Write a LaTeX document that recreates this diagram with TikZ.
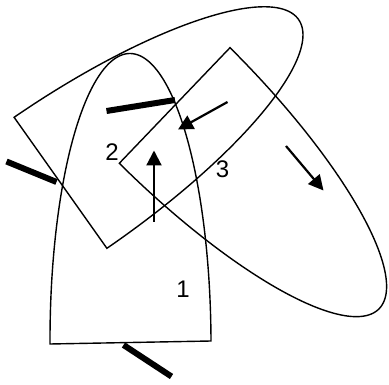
\documentclass[tikz,border=0pt]{standalone}
\usepackage{fontspec}
\setmainfont{Liberation Sans}
\usetikzlibrary{arrows.meta}
\begin{document}
\begin{tikzpicture}[x=1pt,y=-1pt,
  outline/.style={line width=1.4pt, line join=miter},
  thickbar/.style={line width=6pt},
  pointer/.style={line width=2.2pt, -{Triangle[length=15pt,width=15pt]}},
  lbl/.style={font=\fontsize{24}{24}\selectfont, inner sep=0pt}]
\useasboundingbox (0,0) rectangle (389,385);
% shape 1 (upright half ellipse)
\draw[outline] plot[domain=-90:90, samples=150, variable=\t]
  ({130.5 - 1*cos(\t) + 80.5*sin(\t)}, {342.5 - 289*cos(\t) - 1.5*sin(\t)}) -- cycle;
% shape 2 (tilted to upper right)
\draw[outline] plot[domain=-90:90, samples=150, variable=\t]
  ({60.5 + 238*cos(\t) + 46.4*sin(\t)}, {182.8 - 163.4*cos(\t) + 65.5*sin(\t)}) -- cycle;
% shape 3 (tilted to lower right)
\draw[outline] plot[domain=-90:90, samples=150, variable=\t]
  ({174.65 + 204.6*cos(\t) + 55.35*sin(\t)}, {105.5 + 203.1*cos(\t) - 57.8*sin(\t)}) -- cycle;
% thick bars
\coordinate (b1s) at (106.5,111);
\coordinate (b1e) at (175,100);
\coordinate (b2s) at (6.5,161.5);
\coordinate (b2e) at (56.5,182);
\coordinate (b3s) at (123.5,345);
\coordinate (b3e) at (171.5,376.5);
\draw[thickbar] (b1s) -- (b1e);
\draw[thickbar] (b2s) -- (b2e);
\draw[thickbar] (b3s) -- (b3e);
% arrows
\coordinate (a1s) at (154,222);
\coordinate (a1e) at (154,150.5);
\coordinate (a2s) at (227.5,102);
\coordinate (a2e) at (178,129.5);
\coordinate (a3s) at (286,146);
\coordinate (a3e) at (323.5,190.5);
\draw[pointer] (a1s) -- (a1e);
\draw[pointer] (a2s) -- (a2e);
\draw[pointer] (a3s) -- (a3e);
% labels
\node[lbl] (l1) at (183,289) {1};
\node[lbl] (l2) at (112,152.5) {2};
\node[lbl] (l3) at (222.5,169.5) {3};
\end{tikzpicture}
\end{document}
